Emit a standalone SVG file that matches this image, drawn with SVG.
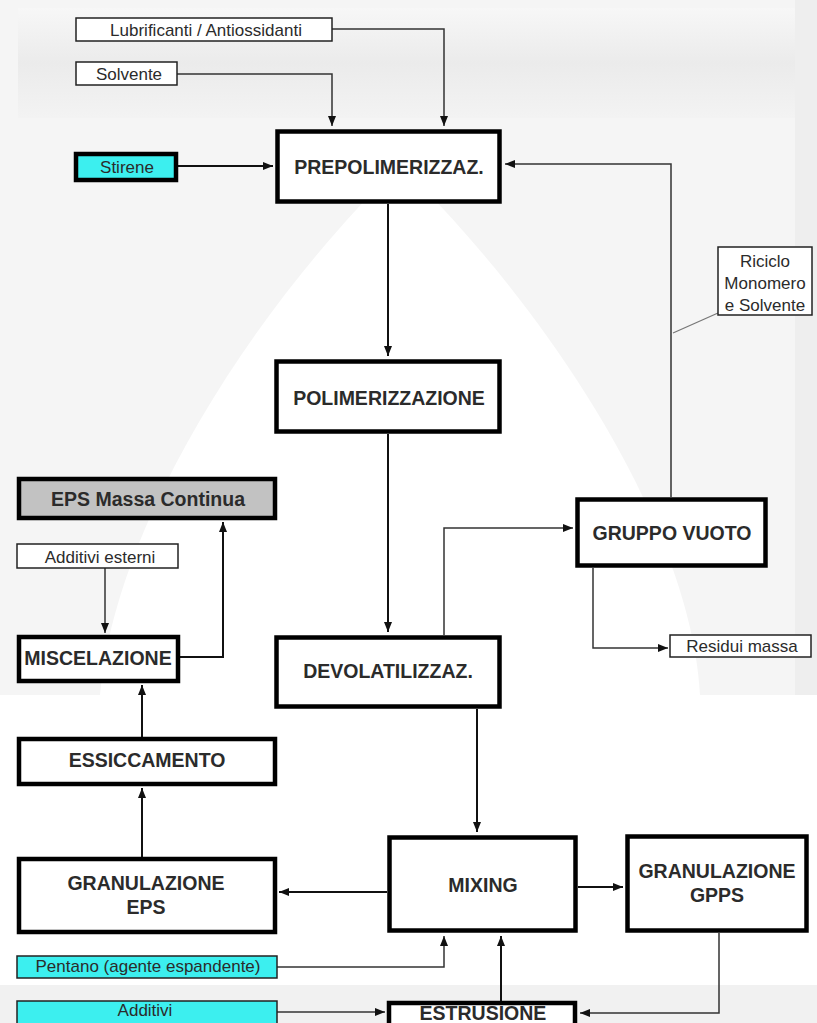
<svg xmlns="http://www.w3.org/2000/svg" width="817" height="1023" viewBox="0 0 817 1023">
  <style>
    .box { fill: #ffffff; stroke: #000000; stroke-width: 4.5; }
    .thin { fill: #ffffff; stroke: #222222; stroke-width: 1.5; }
    .cyan { fill: #3cefef; }
    .grey { fill: #c2c2c2; }
    .t { font-family: "Liberation Sans", Arial, sans-serif; font-weight: bold; font-size: 19.5px; fill: #2b2b2b; text-anchor: middle; }
    .s { font-family: "Liberation Sans", Arial, sans-serif; font-size: 17px; fill: #2b2b2b; text-anchor: middle; }
    .c { fill: none; stroke: #111111; stroke-width: 2; }
    .cl { fill: none; stroke: #333333; stroke-width: 1.5; }
    .lead { fill: none; stroke: #777777; stroke-width: 1.2; }
  </style>
  <defs>
    <marker id="ah" markerUnits="userSpaceOnUse" markerWidth="10" markerHeight="8" refX="10" refY="4" orient="auto">
      <path d="M0,0 L10,4 L0,8 Z" fill="#111111"/>
    </marker>
    <linearGradient id="topband" x1="0" y1="0" x2="0" y2="1">
      <stop offset="0" stop-color="#f7f7f7"/>
      <stop offset="0.5" stop-color="#ebebeb"/>
      <stop offset="1" stop-color="#f3f3f3"/>
    </linearGradient>
  </defs>

  <!-- backdrop -->
  <g id="backdrop">
    <rect x="0" y="0" width="817" height="1023" fill="#ffffff"/>
    <rect x="0" y="0" width="817" height="695" fill="#f5f5f5"/>
    <rect x="18" y="8" width="790" height="110" fill="url(#topband)"/>
    <path d="M100 695 C 115 520, 260 300, 400 165 C 540 300, 690 520, 700 695 Z" fill="#ffffff"/>
    <rect x="795" y="0" width="22" height="695" fill="#eeeeee"/>
    <rect x="0" y="985" width="817" height="38" fill="#f1f1f1"/>
  </g>

  <!-- connectors -->
  <g id="connectors">
    <path class="cl" d="M332 29 H444 V126" marker-end="url(#ah)"/>
    <path class="cl" d="M177 74 H332 V126" marker-end="url(#ah)"/>
    <path class="c" d="M178 166 H273" marker-end="url(#ah)"/>
    <path class="cl" d="M671 497 V164 H505" marker-end="url(#ah)"/>
    <path class="lead" d="M718 313 L673 333"/>
    <path class="c" d="M388 204 V356" marker-end="url(#ah)"/>
    <path class="c" d="M388 434 V632" marker-end="url(#ah)"/>
    <path class="cl" d="M444 635 V528 H573" marker-end="url(#ah)"/>
    <path class="cl" d="M593 568 V648 H668" marker-end="url(#ah)"/>
    <path class="c" d="M477 709 V832" marker-end="url(#ah)"/>
    <path class="c" d="M387 892 H279" marker-end="url(#ah)"/>
    <path class="c" d="M578 887 H623" marker-end="url(#ah)"/>
    <path class="cl" d="M719 933 V1013 H580" marker-end="url(#ah)"/>
    <path class="c" d="M501 1001 V936" marker-end="url(#ah)"/>
    <path class="cl" d="M277 967 H444 V936" marker-end="url(#ah)"/>
    <path class="cl" d="M277 1012 H385" marker-end="url(#ah)"/>
    <path class="c" d="M142 857 V788" marker-end="url(#ah)"/>
    <path class="c" d="M142 737 V685" marker-end="url(#ah)"/>
    <path class="cl" d="M105 568 V633" marker-end="url(#ah)"/>
    <path class="c" d="M180 657 H223 V522" marker-end="url(#ah)"/>
  </g>

  <!-- inputs -->
  <g id="lubrificanti">
    <rect class="thin" x="76" y="18" width="256" height="23"/>
    <text class="s" x="206" y="36" font-size="16.8">Lubrificanti / Antiossidanti</text>
  </g>
  <g id="solvente">
    <rect class="thin" x="76" y="62" width="101" height="23"/>
    <text class="s" x="129" y="80">Solvente</text>
  </g>
  <g id="stirene">
    <rect class="box cyan" x="76" y="154" width="100" height="26" stroke-width="4"/>
    <text class="s" x="127" y="173">Stirene</text>
  </g>

  <!-- main line -->
  <g id="prepolimerizzaz">
    <rect class="box" x="277.5" y="131.5" width="222" height="70" fill="#f3f3f3"/>
    <text class="t" x="389" y="174">PREPOLIMERIZZAZ.</text>
  </g>
  <g id="polimerizzazione">
    <rect class="box" x="276.5" y="361.5" width="223" height="70"/>
    <text class="t" x="389" y="405">POLIMERIZZAZIONE</text>
  </g>
  <g id="devolatilizzaz">
    <rect class="box" x="276.5" y="637.5" width="223" height="69"/>
    <text class="t" x="388" y="678" font-size="18.5">DEVOLATILIZZAZ.</text>
  </g>
  <g id="gruppo-vuoto">
    <rect class="box" x="577.5" y="499.5" width="188" height="66"/>
    <text class="t" x="672" y="540">GRUPPO VUOTO</text>
  </g>
  <g id="riciclo">
    <rect class="thin" x="718" y="247" width="94" height="68"/>
    <text class="s" x="765" y="267" font-size="14.5">Riciclo</text>
    <text class="s" x="765" y="289" font-size="14.5">Monomero</text>
    <text class="s" x="765" y="311" font-size="14.5">e Solvente</text>
  </g>
  <g id="residui-massa">
    <rect class="thin" x="670" y="635" width="141" height="22"/>
    <text class="s" x="742" y="652" font-size="16">Residui massa</text>
  </g>

  <!-- EPS branch -->
  <g id="eps-massa-continua">
    <rect class="box grey" x="19" y="479" width="256" height="39" stroke-width="4"/>
    <text class="t" x="148" y="506" font-size="20">EPS Massa Continua</text>
  </g>
  <g id="additivi-esterni">
    <rect class="thin" x="17" y="544" width="161" height="24"/>
    <text class="s" x="100" y="563" font-size="16.5">Additivi esterni</text>
  </g>
  <g id="miscelazione">
    <rect class="box" x="19" y="637" width="159" height="44" stroke-width="4"/>
    <text class="t" x="98" y="665" font-size="17.5">MISCELAZIONE</text>
  </g>
  <g id="essiccamento">
    <rect class="box" x="19" y="739" width="256" height="45" stroke-width="4"/>
    <text class="t" x="147" y="767">ESSICCAMENTO</text>
  </g>
  <g id="granulazione-eps">
    <rect class="box" x="19" y="859" width="256" height="73" stroke-width="4"/>
    <text class="t" x="146" y="890">GRANULAZIONE</text>
    <text class="t" x="146" y="914">EPS</text>
  </g>
  <g id="pentano">
    <rect class="thin cyan" x="17" y="956" width="260" height="22"/>
    <text class="s" x="148" y="972" font-size="17.5">Pentano (agente espandente)</text>
  </g>
  <g id="additivi">
    <rect class="thin cyan" x="17" y="1001" width="260" height="30"/>
    <text class="s" x="145" y="1016" font-size="16">Additivi</text>
  </g>

  <!-- finishing -->
  <g id="mixing">
    <rect class="box" x="389.5" y="837.5" width="186" height="93"/>
    <text class="t" x="483" y="892">MIXING</text>
  </g>
  <g id="granulazione-gpps">
    <rect class="box" x="627.5" y="836.5" width="179" height="94"/>
    <text class="t" x="717" y="878" font-size="18.5">GRANULAZIONE</text>
    <text class="t" x="717" y="902" font-size="18.5">GPPS</text>
  </g>
  <g id="estrusione">
    <rect class="box" x="389" y="1003" width="186" height="30" stroke-width="4"/>
    <text class="t" x="483" y="1020" font-size="18">ESTRUSIONE</text>
  </g>
</svg>
